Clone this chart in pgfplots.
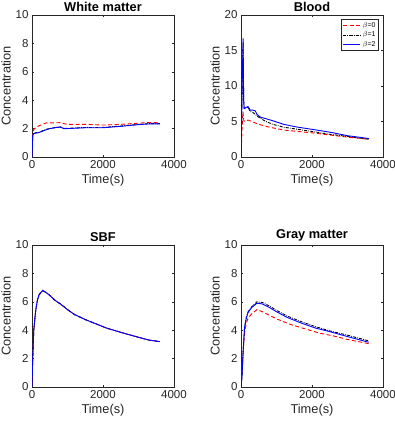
\documentclass[border=0pt]{standalone}
\usepackage{fontspec}
\setmainfont{Liberation Sans}
\usepackage{pgfplots}
\pgfplotsset{compat=1.18}
\definecolor{axgray}{RGB}{38,38,38}
\definecolor{mred}{RGB}{255,0,0}
\definecolor{mblue}{RGB}{0,0,255}
\pgfplotsset{
  panel/.style={
    width=142pt, height=142pt, scale only axis,
    xmin=0, xmax=4000, ymin=0,
    xtick={0,2000,4000},
    tick align=inside, major tick length=2pt,
    axis line style={axgray, line width=0.4pt},
    tick style={axgray, line width=0.4pt},
    tick label style={font=\fontsize{11.5}{12}\selectfont, text=axgray},
    /pgf/number format/assume math mode=true,
    /pgf/number format/1000 sep={},
    scaled ticks=false,
    xlabel={Time(s)}, ylabel={Concentration},
    label style={font=\fontsize{12.8}{14}\selectfont, text=axgray},
    title style={font=\bfseries\fontsize{12.8}{14}\selectfont, yshift=-6pt},
    xlabel style={yshift=1pt}, ylabel style={yshift=-2pt},
  },
  b0/.style={mred, dash pattern=on 4pt off 2.5pt, line width=0.9pt},
  b1/.style={black, dash pattern=on 3pt off 1.2pt on 0.8pt off 1.2pt, line width=0.9pt},
  b2/.style={mblue, solid, line width=0.9pt},
}
\begin{document}
\begin{tikzpicture}
% White matter
\begin{axis}[panel, at={(32pt,266pt)}, anchor=south west, ymax=10, ytick={0,2,...,10}, title={White matter}]
\addplot[b0] coordinates {(0,0) (20,1.5) (50,1.95) (100,2.05) (200,2.2) (300,2.3) (400,2.4) (600,2.4) (800,2.42) (900,2.35) (1000,2.3) (1500,2.3) (2000,2.25) (2500,2.3) (3000,2.38) (3200,2.42) (3600,2.42)};
\addplot[b1] coordinates {(0,0) (20,1.5) (40,1.65) (100,1.7) (200,1.75) (300,1.85) (400,1.95) (500,2.0) (700,2.1) (800,2.12) (900,2.02) (1000,2.02) (1500,2.08) (2000,2.08) (2500,2.18) (3000,2.3) (3300,2.35) (3600,2.35)};
\addplot[b2] coordinates {(0,0) (20,1.5) (40,1.62) (100,1.68) (200,1.72) (300,1.82) (400,1.92) (500,2.0) (700,2.08) (800,2.1) (900,2.0) (1000,2.0) (1500,2.06) (2000,2.06) (2500,2.16) (3000,2.28) (3300,2.33) (3600,2.33)};
\end{axis}
% Blood
\begin{axis}[panel, at={(241pt,266pt)}, anchor=south west, ymax=20, ytick={0,5,...,20}, title={Blood},
  legend style={at={(0.97,0.97)}, anchor=north east, font=\fontsize{7}{8}\selectfont, draw=axgray, line width=0.4pt, inner sep=1pt, row sep=-1pt},
  legend cell align=left]
\addplot[b0] coordinates {(0,0) (30,4) (55,6.4) (80,5.1) (120,5.0) (200,5.2) (300,5.0) (500,4.6) (800,4.2) (1200,3.8) (1600,3.6) (2000,3.4) (2500,3.1) (3000,2.8) (3600,2.5)};
\addplot[b1] coordinates {(0,0) (40,12) (60,16.2) (75,8) (90,6.9) (150,6.9) (200,7.0) (260,6.4) (330,6.3) (400,6.0) (500,5.6) (700,5.0) (900,4.6) (1200,4.2) (1600,3.9) (2000,3.6) (2500,3.2) (3000,2.9) (3600,2.5)};
\addplot[b2] coordinates {(0,0) (40,12) (60,16.7) (75,8) (90,6.8) (150,7.0) (200,7.1) (260,6.6) (330,6.6) (400,6.5) (450,6.0) (550,5.6) (700,5.4) (900,5.1) (1200,4.6) (1600,4.2) (2000,3.9) (2500,3.5) (3000,3.0) (3600,2.6)};
\legend{$\beta$=0,$\beta$=1,$\beta$=2}
\end{axis}
% SBF
\begin{axis}[panel, at={(32pt,36pt)}, anchor=south west, ymax=10, ytick={0,2,...,10}, title={SBF}]
\addplot[b0] coordinates {(0,0) (20,2) (50,4) (100,5.3) (150,6.1) (200,6.5) (250,6.65) (300,6.8) (400,6.65) (500,6.45) (650,6.1) (800,5.85) (1000,5.45) (1200,5.1) (1500,4.75) (1800,4.45) (2100,4.15) (2500,3.85) (3000,3.5) (3300,3.3) (3600,3.2)};
\addplot[b1] coordinates {(0,0) (20,2) (50,4) (100,5.3) (150,6.1) (200,6.5) (250,6.65) (300,6.8) (400,6.65) (500,6.45) (650,6.1) (800,5.85) (1000,5.45) (1200,5.1) (1500,4.75) (1800,4.45) (2100,4.15) (2500,3.85) (3000,3.5) (3300,3.3) (3600,3.2)};
\addplot[b2] coordinates {(0,0) (20,2) (50,4) (100,5.3) (150,6.1) (200,6.5) (250,6.65) (300,6.8) (400,6.65) (500,6.45) (650,6.1) (800,5.85) (1000,5.45) (1200,5.1) (1500,4.75) (1800,4.45) (2100,4.15) (2500,3.85) (3000,3.5) (3300,3.3) (3600,3.2)};
\end{axis}
% Gray matter
\begin{axis}[panel, at={(241pt,36pt)}, anchor=south west, ymax=10, ytick={0,2,...,10}, title={Gray matter}]
\addplot[b0] coordinates {(0,0) (30,1.2) (60,2.5) (100,3.8) (150,4.5) (200,4.85) (300,5.15) (450,5.45) (600,5.3) (800,5.05) (1000,4.8) (1400,4.4) (1800,4.1) (2200,3.8) (2600,3.6) (3000,3.35) (3600,3.05)};
\addplot[b1] coordinates {(0,0) (30,0.8) (60,2.5) (100,4.2) (150,4.9) (200,5.3) (300,5.65) (450,6.0) (600,5.95) (800,5.7) (1000,5.4) (1300,5.0) (1700,4.6) (2100,4.25) (2500,3.95) (3000,3.65) (3600,3.25)};
\addplot[b2] coordinates {(0,0) (30,0.8) (60,2.5) (100,4.2) (150,4.85) (200,5.25) (300,5.6) (450,5.9) (600,5.85) (800,5.6) (1000,5.3) (1300,4.9) (1700,4.5) (2100,4.15) (2500,3.9) (3000,3.55) (3600,3.15)};
\end{axis}
\pgfresetboundingbox
\path (0pt,0pt) rectangle (395pt,423pt);
\end{tikzpicture}
\end{document}
